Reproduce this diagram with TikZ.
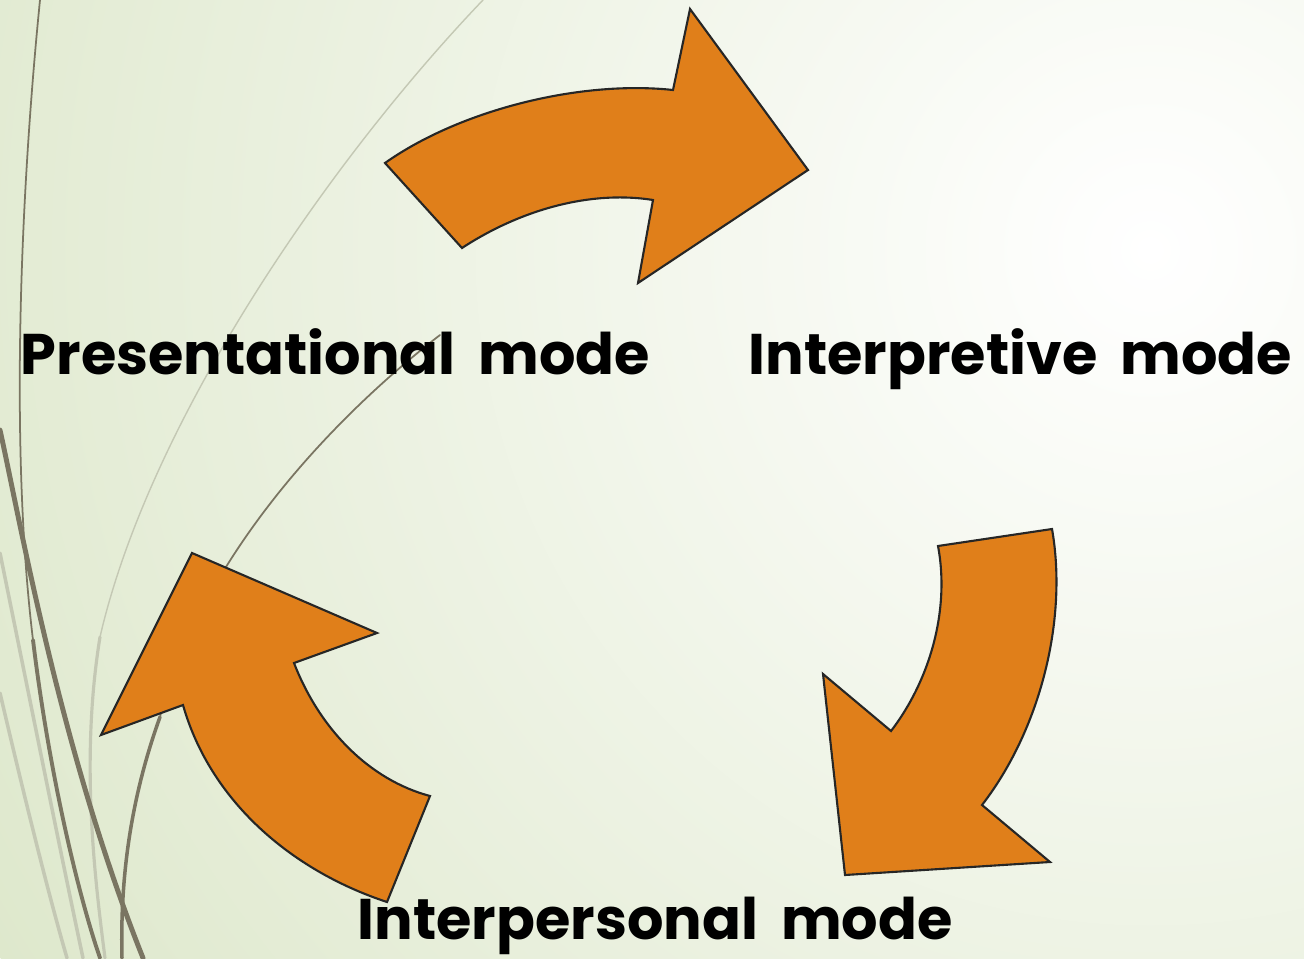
\documentclass[tikz,border=0pt]{standalone}
\usepackage{fontspec}
\newfontfamily\modefont{Poppins}[WordSpace=1.9]
\definecolor{arroworange}{RGB}{224,127,26}
\definecolor{bggreen}{RGB}{222,232,204}
\definecolor{wispdark}{RGB}{122,117,98}
\definecolor{wisplight}{RGB}{196,200,180}
\tikzset{
  modearrow/.style={fill=arroworange, draw=black!85, line width=0.6pt, line join=miter},
  modelabel/.style={font=\modefont\bfseries\fontsize{16.3}{19}\selectfont, anchor=base west, inner sep=0pt},
  wisp/.style={draw=wispdark, line cap=round},
  wispfaint/.style={draw=wisplight, line cap=round}
}
\begin{document}
\begin{tikzpicture}[x=0.01cm,y=-0.01cm]
  \useasboundingbox (0,0) rectangle (1304,958);
  % background
  \begin{scope}
    \clip (0,0) rectangle (1304,958);
    \shade[inner color=white, outer color=bggreen] (1150,250) circle (1350);
    % wisps on the left
    \draw[wispfaint, line width=0.4pt] (483,0) .. controls (330,160) and (150,420) .. (100,637);
    \draw[wispfaint, line width=0.9pt] (100,637) .. controls (80,760) and (95,880) .. (105,958);
    \draw[wispfaint, line width=1pt] (0,553) .. controls (30,700) and (60,850) .. (83,958);
    \draw[wispfaint, line width=1pt] (0,693) .. controls (25,800) and (50,900) .. (67,958);
    \draw[wisp, line width=0.5pt] (40,0) .. controls (20,200) and (10,450) .. (33,640);
    \draw[wisp, line width=1.1pt] (33,640) .. controls (50,780) and (80,900) .. (100,958);
    \draw[wisp, line width=1.4pt] (0,430) .. controls (20,520) and (60,750) .. (143,958);
    \draw[wisp, line width=0.5pt] (440,335) .. controls (330,420) and (200,560) .. (160,717);
    \draw[wisp, line width=1pt] (160,717) .. controls (130,800) and (120,880) .. (122,958);
  \end{scope}
  % arrows
  \draw[modearrow] (385,163) -- (462,248) .. controls (520,210) and (590,190) .. (653,200)
    -- (638,283) -- (808,170) -- (690,9) -- (673,90)
    .. controls (580,80) and (460,110) .. (385,163) -- cycle;
  \draw[modearrow] (938,546) -- (1052,529) .. controls (1068,620) and (1040,730) .. (982,805)
    -- (1050,862) -- (845,875) -- (823,674) -- (891,731)
    .. controls (930,680) and (950,610) .. (938,546) -- cycle;
  \draw[modearrow] (192,553) -- (377,633) -- (294,663)
    .. controls (320,730) and (370,780) .. (430,796) -- (387,902)
    .. controls (290,870) and (210,800) .. (183,705) -- (101,735) -- cycle;
  % labels
  \node[modelabel] (present) at (20,374) {Presentational mode};
  \node[modelabel] (interpret) at (748,374) {Interpretive mode};
  \node[modelabel] (interpers) at (357,939) {Interpersonal mode};
\end{tikzpicture}
\end{document}
